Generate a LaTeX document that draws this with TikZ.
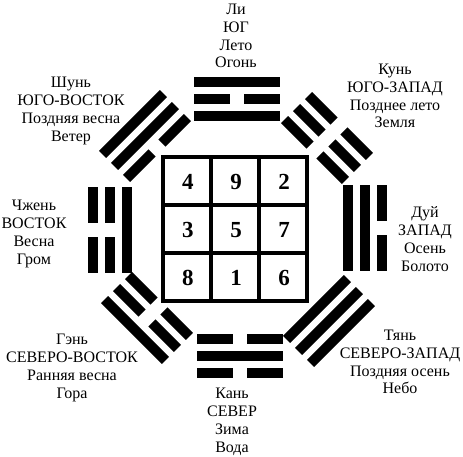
\documentclass[tikz,border=0pt]{standalone}
\usepackage{fontspec}
\setmainfont{Liberation Serif}

\begin{document}
\begin{tikzpicture}[x=10pt,y=10pt,
        caption/.style={align=center,inner sep=0pt,font=\fontsize{16}{17.8}\selectfont},
        digit/.style={inner sep=0pt,font=\fontsize{23}{23}\selectfont\bfseries}]
            \useasboundingbox (-23.5,-22.8) rectangle (22.8,22.9);

            % magic square
            \draw[line width=4.8pt] (-7.2,-7.2) rectangle (7.2,7.2);
            \draw[line width=4.8pt] (-2.4,-7.2) -- (-2.4,7.2);
            \draw[line width=4.8pt] (2.4,-7.2) -- (2.4,7.2);
            \draw[line width=4.8pt] (-7.2,-2.4) -- (7.2,-2.4);
            \draw[line width=4.8pt] (-7.2,2.4) -- (7.2,2.4);

            \node[digit] (n4) at (-4.7,4.7) {4};
            \node[digit] (n9) at (0.1,4.7) {9};
            \node[digit] (n2) at (4.9,4.7) {2};
            \node[digit] (n3) at (-4.7,-0.1) {3};
            \node[digit] (n5) at (0.1,-0.1) {5};
            \node[digit] (n7) at (4.9,-0.1) {7};
            \node[digit] (n8) at (-4.7,-4.9) {8};
            \node[digit] (n1) at (0.1,-4.9) {1};
            \node[digit] (n6) at (4.9,-4.9) {6};

            % trigrams, inner line first
            % li
            \begin{scope}[shift={(0.2,13)}]
                \fill (-4.3,-2.2) rectangle (4.3,-1.2);
                \fill (-4.3,-0.5) rectangle (-0.7,0.5);
                \fill (0.7,-0.5) rectangle (4.3,0.5);
                \fill (-4.3,1.2) rectangle (4.3,2.2);
            \end{scope}
            % kun
            \begin{scope}[shift={(9.2,9.1)},rotate=-45]
                \fill (-4.3,-2.2) rectangle (-0.7,-1.2);
                \fill (0.7,-2.2) rectangle (4.3,-1.2);
                \fill (-4.3,-0.5) rectangle (-0.7,0.5);
                \fill (0.7,-0.5) rectangle (4.3,0.5);
                \fill (-4.3,1.2) rectangle (-0.7,2.2);
                \fill (0.7,1.2) rectangle (4.3,2.2);
            \end{scope}
            % dui
            \begin{scope}[shift={(13,0.1)},rotate=-90]
                \fill (-4.3,-2.2) rectangle (4.3,-1.2);
                \fill (-4.3,-0.5) rectangle (4.3,0.5);
                \fill (-4.3,1.2) rectangle (-0.7,2.2);
                \fill (0.7,1.2) rectangle (4.3,2.2);
            \end{scope}
            % qian
            \begin{scope}[shift={(9.4,-9.2)},rotate=-135]
                \fill (-4.3,-2.2) rectangle (4.3,-1.2);
                \fill (-4.3,-0.5) rectangle (4.3,0.5);
                \fill (-4.3,1.2) rectangle (4.3,2.2);
            \end{scope}
            % kan
            \begin{scope}[shift={(0.5,-12.7)},rotate=180]
                \fill (-4.3,-2.2) rectangle (-0.7,-1.2);
                \fill (0.7,-2.2) rectangle (4.3,-1.2);
                \fill (-4.3,-0.5) rectangle (4.3,0.5);
                \fill (-4.3,1.2) rectangle (-0.7,2.2);
                \fill (0.7,1.2) rectangle (4.3,2.2);
            \end{scope}
            % gen
            \begin{scope}[shift={(-8.8,-8.9)},rotate=135]
                \fill (-4.3,-2.2) rectangle (-0.7,-1.2);
                \fill (0.7,-2.2) rectangle (4.3,-1.2);
                \fill (-4.3,-0.5) rectangle (-0.7,0.5);
                \fill (0.7,-0.5) rectangle (4.3,0.5);
                \fill (-4.3,1.2) rectangle (4.3,2.2);
            \end{scope}
            % zhen
            \begin{scope}[shift={(-12.5,-0.1)},rotate=90]
                \fill (-4.3,-2.2) rectangle (4.3,-1.2);
                \fill (-4.3,-0.5) rectangle (-0.7,0.5);
                \fill (0.7,-0.5) rectangle (4.3,0.5);
                \fill (-4.3,1.2) rectangle (-0.7,2.2);
                \fill (0.7,1.2) rectangle (4.3,2.2);
            \end{scope}
            % xun
            \begin{scope}[shift={(-9.0,9.3)},rotate=45]
                \fill (-4.3,-2.2) rectangle (-0.7,-1.2);
                \fill (0.7,-2.2) rectangle (4.3,-1.2);
                \fill (-4.3,-0.5) rectangle (4.3,0.5);
                \fill (-4.3,1.2) rectangle (4.3,2.2);
            \end{scope}

            % captions
            \node[caption] (li) at (0.1,19.3) {Ли\\ЮГ\\Лето\\Огонь};
            \node[caption] (kun) at (16.0,13.3) {Кунь\\ЮГО-ЗАПАД\\Позднее лето\\Земля};
            \node[caption] (dui) at (19.0,-1.0) {Дуй\\ЗАПАД\\Осень\\Болото};
            \node[caption] (qian) at (16.5,-13.3) {Тянь\\СЕВЕРО-ЗАПАД\\Поздняя осень\\Небо};
            \node[caption] (kan) at (-0.3,-19.3) {Кань\\СЕВЕР\\Зима\\Вода};
            \node[caption] (gen) at (-16.3,-13.9) {Гэнь\\СЕВЕРО-ВОСТОК\\Ранняя весна\\Гора};
            \node[caption] (zhen) at (-20.1,-0.5) {Чжень\\ВОСТОК\\Весна\\Гром};
            \node[caption] (xun) at (-16.4,11.8) {Шунь\\ЮГО-ВОСТОК\\Поздняя весна\\Ветер};
        \end{tikzpicture}
\end{document}
